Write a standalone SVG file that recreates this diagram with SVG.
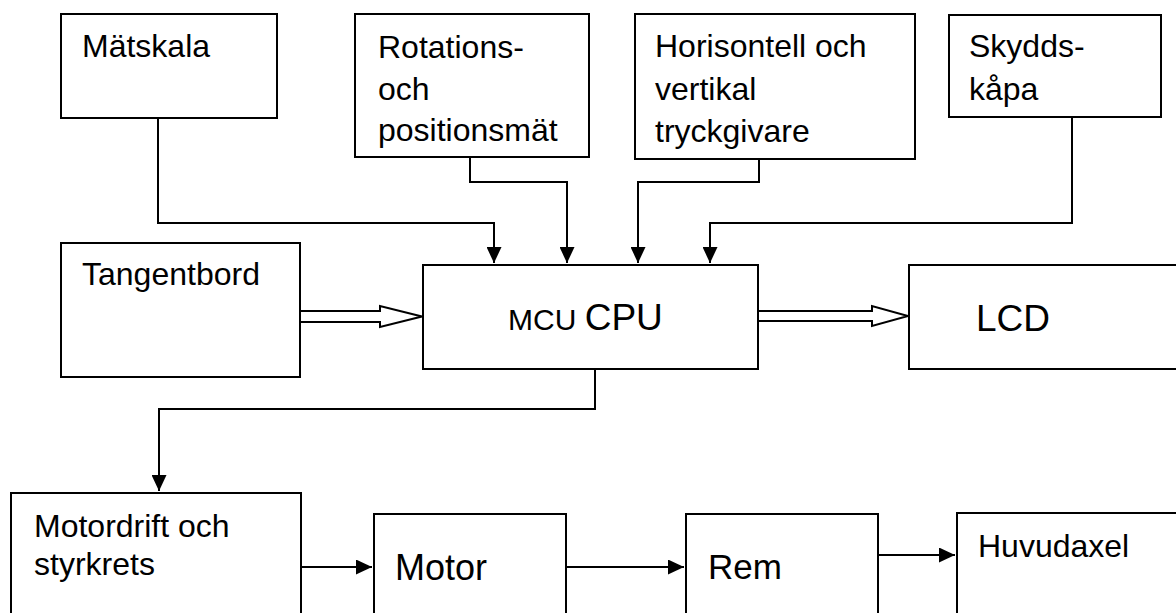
<svg xmlns="http://www.w3.org/2000/svg" width="1176" height="613" viewBox="0 0 1176 613">
<style>
.box{fill:#fff;stroke:#000;stroke-width:2}
.t{font-family:"Liberation Sans",Arial,sans-serif;font-size:32px;fill:#000}
.ln{fill:none;stroke:#000;stroke-width:2}
.hol{fill:#fff;stroke:#000;stroke-width:2;stroke-linejoin:miter}
</style>
<defs>
<marker id="ah" markerUnits="userSpaceOnUse" markerWidth="17" markerHeight="15" refX="16" refY="7.5" orient="auto">
<path d="M0,0 L16,7.5 L0,15 z" fill="#000"/>
</marker>
</defs>
<rect width="1176" height="613" fill="#fff"/>
<g id="connectors">
<path class="ln" d="M158,118 V223 H494 V263" marker-end="url(#ah)"/>
<path class="ln" d="M470,157 V182 H567 V263" marker-end="url(#ah)"/>
<path class="ln" d="M759,159 V182 H638 V263" marker-end="url(#ah)"/>
<path class="ln" d="M1072,117 V223 H710 V263" marker-end="url(#ah)"/>
<path class="ln" d="M595,369 V409 H159 V491" marker-end="url(#ah)"/>
<path class="ln" d="M301,567 H372" marker-end="url(#ah)"/>
<path class="ln" d="M566,567 H684" marker-end="url(#ah)"/>
<path class="ln" d="M878,555 H955" marker-end="url(#ah)"/>
<polygon class="hol" points="300,311 380,311 380,306 422,316.5 380,327 380,322 300,322"/>
<polygon class="hol" points="758,311 872,311 872,306 908,316 872,326 872,321 758,321"/>
</g>
<g id="matskala">
<rect class="box" x="61" y="14" width="216" height="104"/>
<text class="t" x="82" y="57">Mätskala</text>
</g>
<g id="rotation">
<rect class="box" x="355" y="14" width="234" height="143"/>
<text class="t" x="378" y="58">Rotations-</text>
<text class="t" x="378" y="100">och</text>
<text class="t" x="378" y="141">positionsmät</text>
</g>
<g id="tryckgivare">
<rect class="box" x="635" y="14" width="280" height="145"/>
<text class="t" x="655" y="57">Horisontell och</text>
<text class="t" x="655" y="100">vertikal</text>
<text class="t" x="655" y="142">tryckgivare</text>
</g>
<g id="skydd">
<rect class="box" x="949" y="15" width="212" height="102"/>
<text class="t" x="969" y="57">Skydds-</text>
<text class="t" x="969" y="100">kåpa</text>
</g>
<g id="tangentbord">
<rect class="box" x="61" y="243" width="239" height="134"/>
<text class="t" x="82" y="285">Tangentbord</text>
</g>
<g id="cpu">
<rect class="box" x="423" y="265" width="335" height="104"/>
<text class="t" x="508" y="330" style="font-size:30px">MCU <tspan style="font-size:37px">CPU</tspan></text>
</g>
<g id="lcd">
<rect class="box" x="909" y="265" width="280" height="104"/>
<text class="t" x="976" y="331" style="font-size:37px">LCD</text>
</g>
<g id="motordrift">
<rect class="box" x="11" y="493" width="290" height="140"/>
<text class="t" x="34" y="537">Motordrift och</text>
<text class="t" x="34" y="575">styrkrets</text>
</g>
<g id="motor">
<rect class="box" x="374" y="514" width="192" height="120"/>
<text class="t" x="395" y="580" style="font-size:36px">Motor</text>
</g>
<g id="rem">
<rect class="box" x="686" y="514" width="192" height="120"/>
<text class="t" x="708" y="579" style="font-size:35px">Rem</text>
</g>
<g id="huvudaxel">
<rect class="box" x="957" y="513" width="240" height="120"/>
<text class="t" x="978" y="557">Huvudaxel</text>
</g>
</svg>
